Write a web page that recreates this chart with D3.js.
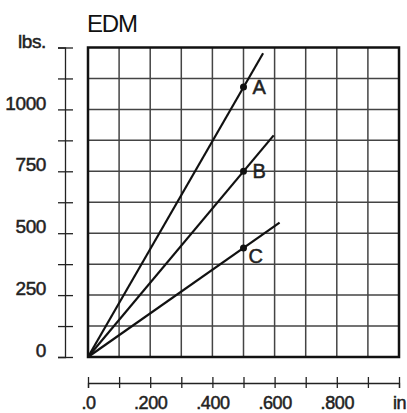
<!DOCTYPE html>
<html>
<head>
<meta charset="utf-8">
<script src="https://cdn.jsdelivr.net/npm/d3@7"></script>
<style>
  body { margin: 0; background: #fff; }
  svg { display: block; font-family: "Liberation Sans", Arial, sans-serif; }
</style>
</head>
<body>
<script>
// chart values
const yTicks = [0, 125, 250, 375, 500, 625, 750, 875, 1000, 1125, 1250];
const yTickLabels = ["0", "", "250", "", "500", "", "750", "", "1000", "", "lbs."];
const xTicks = [0, 0.1, 0.2, 0.3, 0.4, 0.5, 0.6, 0.7, 0.8, 0.9, 1.0];
const xTickLabels = [".0", "", ".200", "", ".400", "", ".600", "", ".800", "", "in"];
const lineNames = ["A", "B", "C"];
const pointX = [0.5, 0.5, 0.5];
const pointY = [1090, 750, 440];
const endX = [0.563, 0.597, 0.616];
const endY = [1227, 895, 543];

const width = 407, height = 413;
const plotLeft = 88, plotRight = 399, plotTop = 47.5, plotBottom = 357;

const svg = d3.select('body').append('svg')
    .attr('width', width)
    .attr('height', height);

const x = d3.scaleLinear().domain([0, 1]).range([plotLeft, plotRight]);
const y = d3.scaleLinear().domain([0, 1250]).range([plotBottom, plotTop]);

// title
svg.append('text')
    .attr('x', 87)
    .attr('y', 32)
    .style('font-size', '24px')
    .style('letter-spacing', '-1.2px')
    .attr('fill', '#111')
    .text('EDM');

// grid
svg.append('g').selectAll('line')
    .data(xTicks.slice(1, -1))
    .enter().append('line')
        .attr('x1', d => x(d)).attr('x2', d => x(d))
        .attr('y1', plotTop).attr('y2', plotBottom)
        .attr('stroke', '#444').attr('stroke-width', 1.5);

svg.append('g').selectAll('line')
    .data(yTicks.slice(1, -1))
    .enter().append('line')
        .attr('x1', plotLeft).attr('x2', plotRight)
        .attr('y1', d => y(d)).attr('y2', d => y(d))
        .attr('stroke', '#444').attr('stroke-width', 1.5);

// frame
svg.append('rect')
    .attr('x', plotLeft).attr('y', plotTop)
    .attr('width', plotRight - plotLeft).attr('height', plotBottom - plotTop)
    .attr('fill', 'none').attr('stroke', '#111').attr('stroke-width', 2.5);

// left axis (detached)
const yAxis = svg.append('g')
    .attr('transform', 'translate(65,0)')
    .call(d3.axisLeft(y).tickValues(yTicks).tickSize(7).tickPadding(12)
        .tickFormat((d, i) => yTickLabels[i]));
yAxis.select('.domain').attr('stroke', '#222').attr('stroke-width', 1.3);
yAxis.selectAll('.tick line').attr('x1', -7).attr('x2', 8).attr('stroke', '#222').attr('stroke-width', 1.3);
yAxis.selectAll('.tick text')
    .attr('dy', '-0.02em')
    .style('font-size', '19px')
    .style('letter-spacing', '-0.4px')
    .attr('fill', '#222')
    .attr('stroke', '#222').attr('stroke-width', 0.5);

// bottom axis (detached)
const xAxis = svg.append('g')
    .attr('transform', 'translate(0,383)')
    .call(d3.axisBottom(x).tickValues(xTicks).tickSize(5).tickPadding(8)
        .tickFormat((d, i) => xTickLabels[i]));
xAxis.select('.domain').attr('stroke', '#222').attr('stroke-width', 1.3);
xAxis.selectAll('.tick line').attr('y1', -6).attr('y2', 5).attr('stroke', '#222').attr('stroke-width', 1.3);
xAxis.selectAll('.tick text')
    .style('font-size', '18px')
    .style('letter-spacing', '-0.4px')
    .attr('fill', '#222')
    .attr('stroke', '#222').attr('stroke-width', 0.5);

// force lines
const lines = lineNames.map((name, i) => ({
    name: name, px: pointX[i], py: pointY[i], ex: endX[i], ey: endY[i]
}));

svg.append('g').selectAll('line')
    .data(lines)
    .enter().append('line')
        .attr('x1', x(0)).attr('y1', y(0))
        .attr('x2', d => x(d.ex)).attr('y2', d => y(d.ey))
        .attr('stroke', '#111').attr('stroke-width', 2.2);

svg.append('g').selectAll('circle')
    .data(lines)
    .enter().append('circle')
        .attr('cx', d => x(d.px)).attr('cy', d => y(d.py))
        .attr('r', 3.5).attr('fill', '#111');

const labelDy = [7, 7, 15];
svg.append('g').selectAll('text')
    .data(lines)
    .enter().append('text')
        .attr('x', d => x(d.px) + (d.name === 'C' ? 5 : 9))
        .attr('y', (d, i) => y(d.py) + labelDy[i])
        .style('font-size', '20px')
        .attr('fill', '#222')
        .attr('stroke', '#222').attr('stroke-width', 0.5)
        .text(d => d.name);
</script>
</body>
</html>
